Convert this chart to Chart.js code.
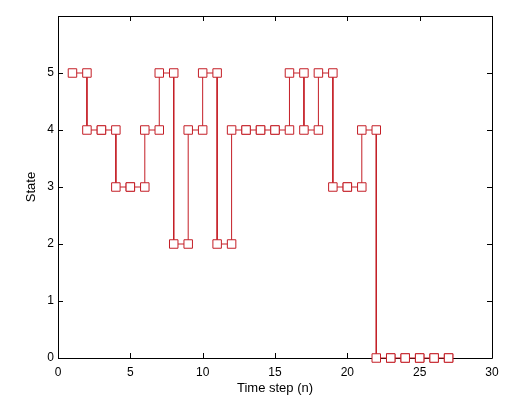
<!DOCTYPE html>
<html>
<head>
<meta charset="utf-8">
<script src="https://cdn.jsdelivr.net/npm/chart.js@4"></script>
<style>
    html, body { margin: 0; padding: 0; background: #ffffff; }
    #wrap { width: 524px; height: 396px; }
</style>
</head>
<body>
<div id="wrap"><canvas id="chart" width="524" height="396"></canvas></div>
<script>
// Time steps and the state held from each step to the next
const timeSteps = [1, 2, 3, 4, 5, 6, 7, 8, 9, 10, 11, 12, 13, 14, 15, 16, 17, 18, 19, 20, 21, 22, 23, 24, 25, 26, 27];
const states = [5, 4, 4, 3, 3, 4, 5, 2, 4, 5, 2, 4, 4, 4, 4, 5, 4, 5, 3, 3, 4, 0, 0, 0, 0, 0, 0];

const xTicks = [0, 5, 10, 15, 20, 25, 30];
const yTicks = [0, 1, 2, 3, 4, 5];

const lineColor = '#c41e26';
const fontFamily = '"Liberation Sans", Arial, sans-serif';

// Stairs vertices: each value is held until the next step, marker on every corner
function buildStairs() {
    const pts = [];
    for (let i = 0; i < timeSteps.length; i++) {
        pts.push({ x: timeSteps[i], y: states[i] });
        if (i + 1 < timeSteps.length) {
            pts.push({ x: timeSteps[i + 1], y: states[i] });
        }
    }
    return pts;
}

// Box around the plot area and inward tick marks on all four sides
const boxPlugin = {
    id: 'boxPlugin',
    beforeDatasetsDraw(chart) {
        const ctx = chart.ctx;
        const a = chart.chartArea;
        const xs = chart.scales.x;
        const ys = chart.scales.y;
        const len = 5;
        ctx.save();
        ctx.strokeStyle = '#000000';
        ctx.lineWidth = 1;
        ctx.beginPath();
        ctx.rect(Math.round(a.left) + 0.5, Math.round(a.top) + 0.5,
                 Math.round(a.right - a.left), Math.round(a.bottom - a.top));
        xTicks.forEach(v => {
            const px = Math.round(xs.getPixelForValue(v)) + 0.5;
            ctx.moveTo(px, a.bottom);
            ctx.lineTo(px, a.bottom - len);
            ctx.moveTo(px, a.top);
            ctx.lineTo(px, a.top + len);
        });
        yTicks.forEach(v => {
            const py = Math.round(ys.getPixelForValue(v)) + 0.5;
            ctx.moveTo(a.left, py);
            ctx.lineTo(a.left + len, py);
            ctx.moveTo(a.right, py);
            ctx.lineTo(a.right - len, py);
        });
        ctx.stroke();
        ctx.restore();
    }
};

document.addEventListener('DOMContentLoaded', function() {
    const ctx = document.getElementById('chart').getContext('2d');
    new Chart(ctx, {
        type: 'line',
        data: {
            datasets: [{
                label: 'State',
                data: buildStairs(),
                borderColor: lineColor,
                borderWidth: 1,
                pointStyle: 'rect',
                pointRadius: 6,
                pointBorderColor: lineColor,
                pointBackgroundColor: '#ffffff',
                pointBorderWidth: 1,
                tension: 0,
                fill: false,
                clip: false
            }]
        },
        options: {
            responsive: false,
            animation: false,
            events: [],
            layout: {
                padding: { left: 0, top: 16, right: 32, bottom: 0 }
            },
            plugins: {
                legend: { display: false },
                tooltip: { enabled: false }
            },
            scales: {
                x: {
                    type: 'linear',
                    min: 0,
                    max: 30,
                    afterBuildTicks: function(scale) {
                        scale.ticks = xTicks.map(v => ({ value: v }));
                    },
                    afterFit: function(scale) {
                        scale.height = 38;
                    },
                    grid: { display: false, drawTicks: false },
                    border: { display: false },
                    ticks: {
                        color: '#000000',
                        font: { family: fontFamily, size: 12 },
                        padding: 7,
                        maxRotation: 0
                    },
                    title: {
                        display: true,
                        text: 'Time step (n)',
                        color: '#000000',
                        font: { family: fontFamily, size: 13 },
                        padding: { top: 0, bottom: 0 }
                    }
                },
                y: {
                    type: 'linear',
                    min: 0,
                    max: 6,
                    afterBuildTicks: function(scale) {
                        scale.ticks = yTicks.map(v => ({ value: v }));
                    },
                    afterFit: function(scale) {
                        scale.width = 58;
                    },
                    grid: { display: false, drawTicks: false },
                    border: { display: false },
                    ticks: {
                        color: '#000000',
                        font: { family: fontFamily, size: 12 },
                        padding: 4
                    },
                    title: {
                        display: true,
                        text: 'State',
                        color: '#000000',
                        font: { family: fontFamily, size: 13 },
                        padding: { top: 24, bottom: 0 }
                    }
                }
            }
        },
        plugins: [boxPlugin]
    });
});
</script>
</body>
</html>
